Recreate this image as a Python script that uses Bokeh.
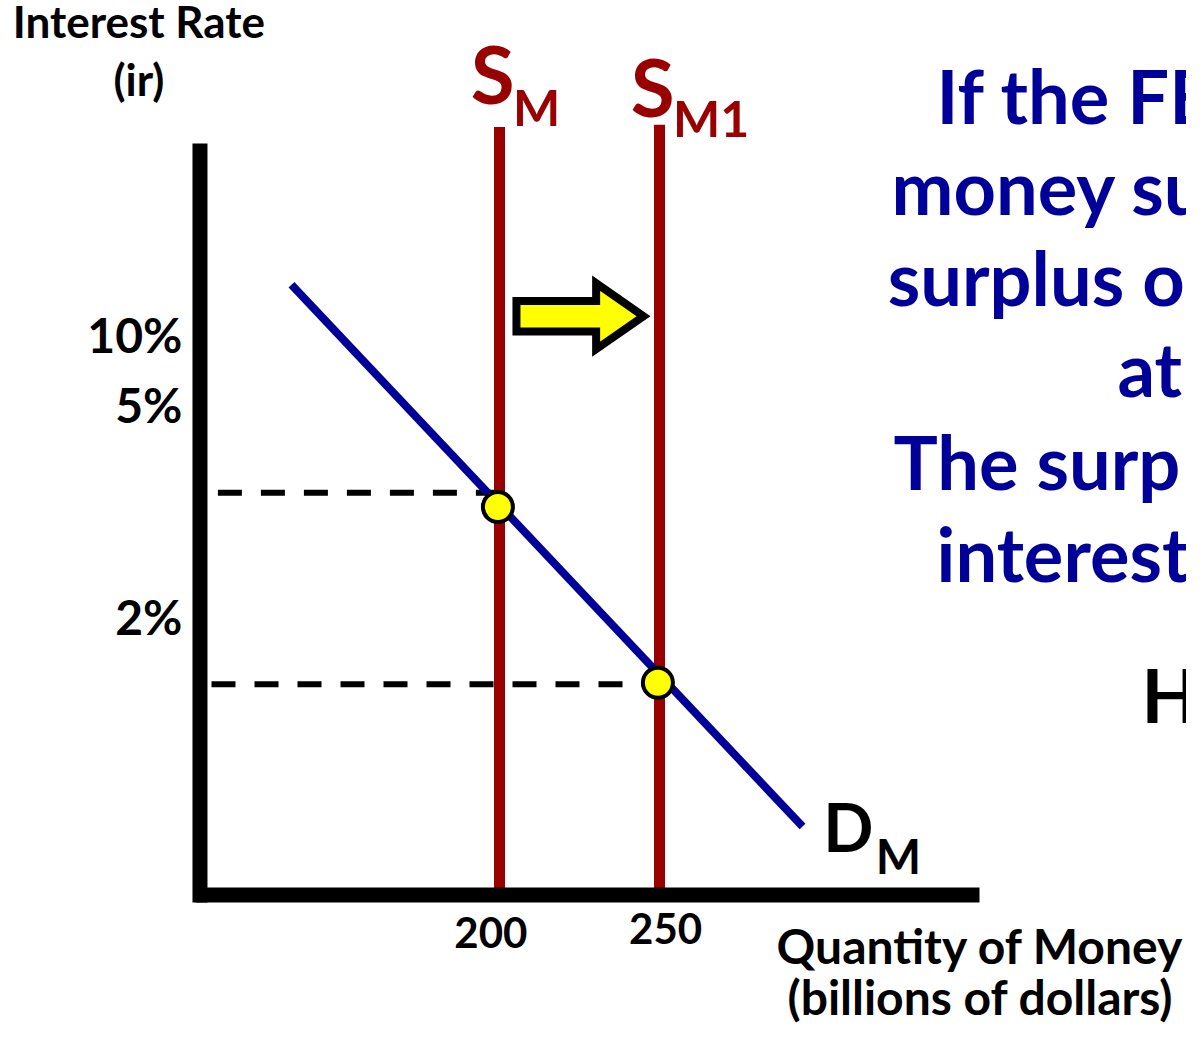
from bokeh.plotting import figure
from bokeh.models import Range1d
from bokeh.core.properties import value
from bokeh.embed import file_html
from bokeh.resources import INLINE

# ---------------- data (quantity in billions, vertical = diagram rate scale 0..100) ----------------
supply_q = [200, 250]
supply_top_v = [102.2, 102.5]
supply_main = ["S", "S"]
supply_sub = ["M", "M1"]

demand_q = [135.0, 294.7]
demand_v = [81.2, 9.05]

eq_q = [199.5, 249.5]
eq_v = [51.6, 28.2]

guide_v = [53.5, 28.0]
guide_start_q = [112.0, 110.0]
guide_end_q = [199.5, 249.4]

ytick_labels = ["10%", "5%", "2%"]
ytick_v = [72.0, 62.7, 34.5]
xtick_labels = ["200", "250"]
xtick_q = [197.3, 251.9]
xtick_v = [-7.3, -6.8]

axis_origin_q = 106.4
axis_end_q = 350.0
axis_top_v = 100.0

arrow_q = [205.3, 230.2, 245.0]   # tail, head base, tip
arrow_v = 77.0
arrow_body_half = 2.04
arrow_head_half = 4.39

y_title = ["Interest Rate", "(ir)"]
x_title = ["Quantity of Money", "(billions of dollars)"]
side_lines = ["If the FE", "money su", "surplus o", "at", "The surp", "interest"]
side_q = [336.6, 322.5, 321.3, 393.1, 323.1, 336.6]
side_v = [102.4, 90.3, 78.2, 66.1, 53.7, 41.5]

RED = "#990000"
BLUE = "#000099"
FONT = value("Lato")
PX_PER_V = 7.51

p = figure(width=1186, height=1024,
           x_range=Range1d(44.0625, 414.6875), y_range=Range1d(-17.31, 119.04),
           output_backend="svg", toolbar_location=None, min_border=0,
           x_axis_type=None, y_axis_type=None)
p.grid.visible = False
p.outline_line_color = None
p.background_fill_color = "white"
p.border_fill_color = "white"

# dashed guides
p.segment(x0=guide_start_q, y0=guide_v, x1=guide_end_q, y1=guide_v,
          line_color="black", line_width=6, line_dash="24 19", line_cap="butt")

# supply lines
p.segment(x0=supply_q, y0=[0, 0], x1=supply_q, y1=supply_top_v,
          line_color=RED, line_width=11, line_cap="butt")

# demand line
p.line(x=demand_q, y=demand_v, line_color=BLUE, line_width=8, line_cap="butt")

# axes
p.segment(x0=[axis_origin_q], y0=[-1.07], x1=[axis_origin_q], y1=[axis_top_v],
          line_color="black", line_width=15, line_cap="butt")
p.segment(x0=[axis_origin_q - 1.3], y0=[-0.07], x1=[axis_end_q], y1=[-0.07],
          line_color="black", line_width=15, line_cap="butt")

# equilibrium points
p.scatter(x=eq_q, y=eq_v, size=30, fill_color="#FFFF00", line_color="black", line_width=4)

# shift arrow
t, hb, tip = arrow_q
ax = [t, hb, hb, tip, hb, hb, t]
ay = [arrow_v + arrow_body_half, arrow_v + arrow_body_half, arrow_v + arrow_head_half,
      arrow_v, arrow_v - arrow_head_half, arrow_v - arrow_body_half, arrow_v - arrow_body_half]
p.patch(x=ax, y=ay, fill_color="#FFFF00", line_color="black", line_width=8, line_join="miter")

def txt(x, y, text, size, color="black", align="left"):
    # y values are desired baselines; compensate renderer's baseline shift
    ya = [v + 0.4 * size / PX_PER_V for v in y]
    p.text(x=x, y=ya, text=text, text_font=FONT, text_font_style="bold",
           text_font_size=value(f"{size}px"), text_color=color, text_align=align,
           text_baseline="alphabetic")

# supply labels
txt([q - 9.0 for q in supply_q], [105.06, 103.33], supply_main, 80, RED)
txt([q + 4.2 for q in supply_q], [102.26, 100.67], supply_sub, 50, RED)

# demand label
txt([301.2], [5.59], ["D"], 66)
txt([317.6], [2.66], ["M"], 48)

# ticks
txt([100.9] * 3, ytick_v, ytick_labels, 48, align="right")
txt(xtick_q, xtick_v, xtick_labels, 42, align="center")

# axis titles
txt([87.3, 87.3], [113.95, 106.3], y_title, 44, align="center")
txt([350.3, 350.3], [-9.3, -16.2], x_title, 48, align="center")

# side text
txt(side_q, side_v, side_lines, 74, BLUE)
txt([400.6], [22.63], ["H"], 74)

open("out.html", "w").write(file_html(p, INLINE))
